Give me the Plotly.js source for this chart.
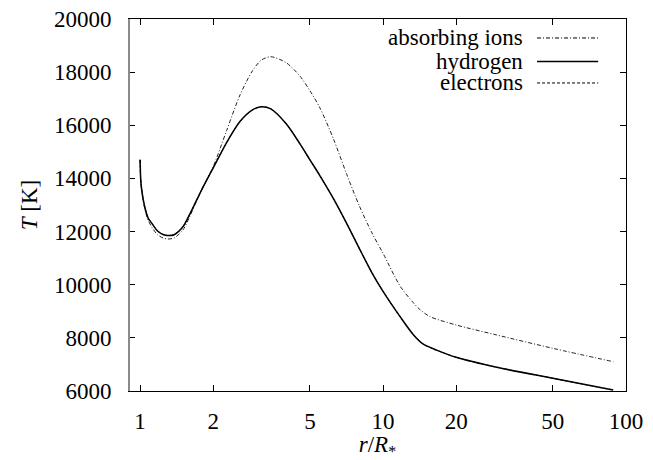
<!DOCTYPE html>
<html>
<head>
<meta charset="utf-8">
<script src="https://cdn.plot.ly/plotly-3.0.1.min.js"></script>
<style>
html,body{margin:0;padding:0;background:#fff}
#chart{width:653px;height:460px}
#chart text{font-family:'Liberation Serif','Times New Roman',serif !important;}
</style>
</head>
<body>
<div id="chart"></div>
<script>
// Radius r/R* and temperature T [K]
var rHydrogen = [1.0, 1.005, 1.01, 1.02, 1.03, 1.05, 1.08, 1.12, 1.18, 1.25, 1.3, 1.38, 1.5, 1.6, 1.71, 1.82, 2.0, 2.27, 2.58, 2.9, 3.15, 3.45, 4.0, 4.55, 5.0, 5.5, 6.24, 7.09, 8.0, 9.0, 10.0, 11.75, 13.3, 14.65, 16.6, 20, 29.4, 50, 88.6];
var tHydrogen = [14700, 14000, 13750, 13450, 13200, 12850, 12500, 12300, 12020, 11880, 11850, 11880, 12180, 12650, 13190, 13690, 14400, 15350, 16150, 16580, 16700, 16620, 16050, 15300, 14700, 14100, 13250, 12300, 11350, 10450, 9750, 8800, 8130, 7760, 7540, 7268, 6892, 6478, 6038];

var rElectrons = rHydrogen.slice();
var tElectrons = tHydrogen.slice();

var rIons = [1.0, 1.005, 1.01, 1.02, 1.03, 1.05, 1.08, 1.12, 1.18, 1.25, 1.3, 1.38, 1.5, 1.6, 1.71, 1.82, 2.0, 2.27, 2.58, 2.9, 3.15, 3.45, 4.0, 4.55, 5.0, 5.5, 6.24, 7.09, 8.0, 9.0, 10.0, 11.75, 13.3, 14.2, 15.6, 20, 29.4, 50, 88.6];
var tIons = [14700, 14000, 13700, 13400, 13150, 12780, 12420, 12150, 11880, 11750, 11720, 11760, 12060, 12560, 13170, 13700, 14450, 15800, 17150, 18050, 18450, 18580, 18350, 17850, 17300, 16650, 15500, 14150, 12950, 11950, 11180, 9950, 9330, 9060, 8800, 8484, 8107, 7606, 7103];

var seriesNames = ['absorbing ions', 'hydrogen', 'electrons'];
var xTickVals = [1, 2, 5, 10, 20, 50, 100];
var xTickText = ['1', '2', '5', '10', '20', '50', '100'];
var yTickVals = [6000, 8000, 10000, 12000, 14000, 16000, 18000, 20000];
var yTickText = ['6000', '8000', '10000', '12000', '14000', '16000', '18000', '20000'];

var FONT = 'Liberation Serif';
var FS = 23;
var dashIons = '4px,2px,1px,2px';
var dashElectrons = '3px,2px';

var traces = [
  {x: rElectrons, y: tElectrons, mode: 'lines', name: seriesNames[2], line: {color: '#000', width: 1, dash: dashElectrons, shape: 'spline', smoothing: 0.8}},
  {x: rIons, y: tIons, mode: 'lines', name: seriesNames[0], line: {color: '#222', width: 1, dash: dashIons, shape: 'spline', smoothing: 0.8}},
  {x: rHydrogen, y: tHydrogen, mode: 'lines', name: seriesNames[1], line: {color: '#000', width: 1.5, shape: 'spline', smoothing: 0.8}}
];

// Legend (gnuplot style: text right-aligned, sample to the right)
var legRows = [0.949, 0.886, 0.828];
var legDash = [dashIons, 'solid', dashElectrons];
var legWidth = [1, 1.5, 1];
var annotations = [];
var shapes = [];
for (var i = 0; i < 3; i++) {
  annotations.push({xref: 'paper', yref: 'paper', x: 0.795, y: legRows[i], text: seriesNames[i], showarrow: false,
    xanchor: 'right', yanchor: 'middle', borderpad: 0,
    font: {family: FONT, size: FS, color: '#000'}});
  shapes.push({type: 'line', xref: 'paper', yref: 'paper', x0: 0.821, x1: 0.944, y0: legRows[i], y1: legRows[i],
    line: {color: '#000', width: legWidth[i], dash: legDash[i]}, layer: 'above'});
}
// grey left border as in the reference
shapes.push({type: 'line', xref: 'paper', yref: 'paper', x0: 0, x1: 0, y0: 0, y1: 1, line: {color: '#8a8a8a', width: 2}, layer: 'above'});

var layout = {
  width: 653, height: 460,
  margin: {l: 129, r: 27, t: 19, b: 69},
  paper_bgcolor: '#fff', plot_bgcolor: '#fff',
  showlegend: false,
  font: {family: FONT, size: FS, color: '#000'},
  xaxis: {
    type: 'log', range: [Math.log10(0.9), 2],
    tickmode: 'array', tickvals: xTickVals, ticktext: xTickText,
    ticks: 'inside', ticklen: 6, tickcolor: '#000', tickwidth: 1,
    showline: true, linecolor: '#000', linewidth: 1, mirror: 'allticks',
    showgrid: false, zeroline: false,
    ticklabelstandoff: 9,
    tickfont: {family: FONT, size: FS, color: '#000'},
    title: {text: '<i>r</i>/<i>R</i><sub>*</sub>', font: {family: FONT, size: FS, color: '#000'}, standoff: 10}
  },
  yaxis: {
    range: [6000, 20000],
    tickmode: 'array', tickvals: yTickVals, ticktext: yTickText,
    ticks: 'inside', ticklen: 6, tickcolor: '#000', tickwidth: 1,
    showline: true, linecolor: '#000', linewidth: 1, mirror: 'allticks',
    showgrid: false, zeroline: false,
    ticklabelstandoff: 12,
    tickfont: {family: FONT, size: FS, color: '#000'},
    title: {text: '<i>T</i> [K]', font: {family: FONT, size: FS, color: '#000'}, standoff: 9}
  },
  annotations: annotations,
  shapes: shapes
};

Plotly.newPlot('chart', traces, layout, {displayModeBar: false, staticPlot: true});
</script>
</body>
</html>
